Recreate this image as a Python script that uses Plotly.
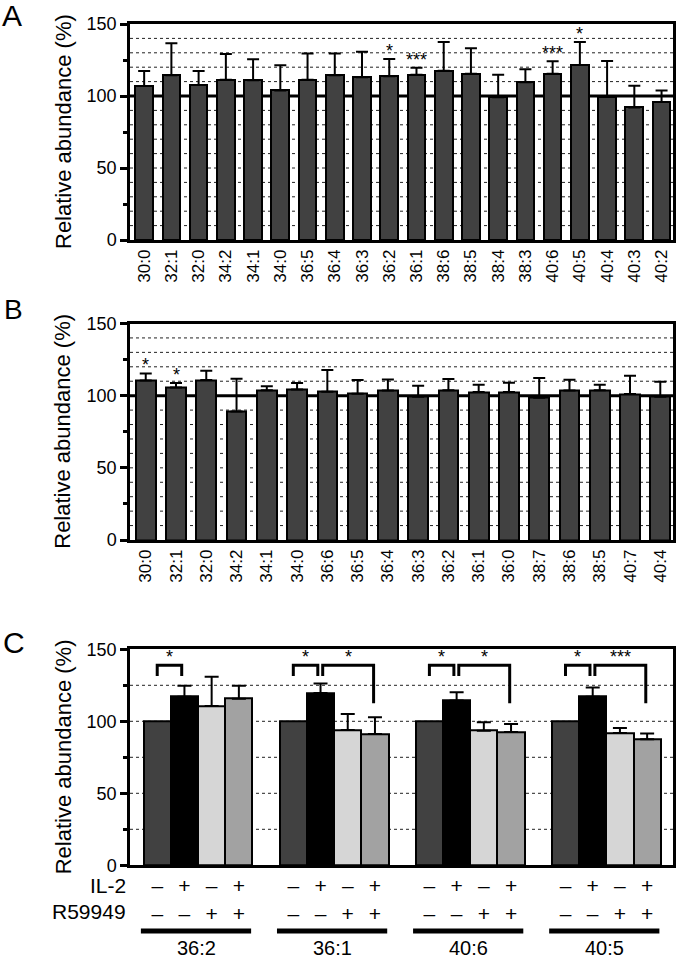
import plotly.graph_objects as go

# ---------------- data ----------------
cats_A = ["30:0", "32:1", "32:0", "34:2", "34:1", "34:0", "36:5", "36:4", "36:3", "36:2",
          "36:1", "38:6", "38:5", "38:4", "38:3", "40:6", "40:5", "40:4", "40:3", "40:2"]
vals_A = [107.0, 114.4, 107.6, 111.3, 110.9, 103.9, 111.3, 114.4, 113.0, 113.7,
          114.8, 117.6, 115.5, 99.1, 109.5, 115.5, 121.5, 99.5, 92.1, 95.8]
errs_A = [10.4, 22.2, 9.8, 17.9, 14.6, 17.4, 18.3, 15.2, 17.8, 12.0,
          4.9, 19.9, 17.6, 15.7, 9.0, 8.6, 16.0, 24.8, 15.1, 8.1]
sig_A = ["", "", "", "", "", "", "", "", "", "*",
         "***", "", "", "", "", "***", "*", "", "", ""]

cats_B = ["30:0", "32:1", "32:0", "34:2", "34:1", "34:0", "36:6", "36:5", "36:4", "36:3",
          "36:2", "36:1", "36:0", "38:7", "38:6", "38:5", "40:7", "40:4"]
vals_B = [110.5, 105.7, 110.8, 89.1, 103.8, 104.3, 102.7, 101.3, 103.6, 99.3,
          103.8, 102.5, 102.5, 98.5, 103.6, 103.8, 101.1, 99.3]
errs_B = [4.9, 3.0, 6.4, 22.6, 2.8, 4.4, 15.0, 9.5, 7.6, 7.5,
          7.7, 5.0, 6.4, 13.7, 7.4, 3.7, 12.7, 10.3]
sig_B = ["*", "*", "", "", "", "", "", "", "", "",
         "", "", "", "", "", "", "", ""]

groups_C = ["36:2", "36:1", "40:6", "40:5"]
ctrl_C = [100, 100, 100, 100]
il2_C = [117.1, 119.7, 114.4, 117.1]
il2_err_C = [7.6, 6.5, 5.8, 6.3]
r59_C = [110.6, 94.0, 93.5, 91.9]
r59_err_C = [20.4, 11.0, 5.8, 3.5]
both_C = [115.7, 91.2, 92.6, 87.5]
both_err_C = [9.0, 11.6, 5.5, 4.0]
il2_row = ["–", "+", "–", "+"]
r59_row = ["–", "–", "+", "+"]
# significance comparisons in panel C: (group, bar a, bar b, label)
sig_C = [(0, 0, 1, "*"), (1, 0, 1, "*"), (1, 1, 3, "*"), (2, 0, 1, "*"),
         (2, 1, 3, "*"), (3, 0, 1, "*"), (3, 1, 3, "***")]

# ---------------- style ----------------
W, H = 676, 961
FONT = "Liberation Sans, Arial, Helvetica, sans-serif"
DARK = "#414141"
COLS_C = ["#414141", "#000000", "#d6d6d6", "#a2a2a2"]
XDOM = [130 / W, 673 / W]


def ydom(top_px, bot_px):
    return [1 - bot_px / H, 1 - top_px / H]


DOM_A = ydom(24, 240)
DOM_B = ydom(323.5, 540)
DOM_C = ydom(649.3, 865.3)

fig = go.Figure()

# panel A
fig.add_trace(go.Bar(
    x=cats_A, y=vals_A, xaxis="x", yaxis="y", width=0.65,
    marker=dict(color=DARK, line=dict(color="black", width=2)),
    error_y=dict(type="data", symmetric=False, array=errs_A, arrayminus=[0] * len(errs_A),
                 color="black", thickness=2, width=6),
    showlegend=False))
# panel B
fig.add_trace(go.Bar(
    x=cats_B, y=vals_B, xaxis="x2", yaxis="y2", width=0.65,
    marker=dict(color=DARK, line=dict(color="black", width=2)),
    error_y=dict(type="data", symmetric=False, array=errs_B, arrayminus=[0] * len(errs_B),
                 color="black", thickness=2, width=6),
    showlegend=False))

# panel C
series_C = [(ctrl_C, [0] * 4), (il2_C, il2_err_C), (r59_C, r59_err_C), (both_C, both_err_C)]
GAP = 5
for k, (vals, errs) in enumerate(series_C):
    xs = [g * GAP + k for g in range(len(groups_C))]
    fig.add_trace(go.Bar(
        x=xs, y=vals, xaxis="x3", yaxis="y3", width=1.0,
        marker=dict(color=COLS_C[k], line=dict(color="black", width=2)),
        error_y=dict(type="data", symmetric=False, array=errs, arrayminus=[0] * 4,
                     color="black", thickness=2, width=7, visible=(k > 0)),
        showlegend=False))

tick_pos_C, tick_txt_C = [], []
for g in range(len(groups_C)):
    for k in range(4):
        tick_pos_C.append(g * GAP + k)
        tick_txt_C.append(f"{il2_row[k]}<br>{r59_row[k]}")

axis_line = dict(showline=True, linecolor="black", linewidth=2.5, mirror=True,
                 zeroline=False, showgrid=False, automargin=False)
yax_common = dict(range=[0, 150], tickvals=[0, 50, 100, 150], ticks="outside", ticklen=7,
                  tickwidth=2.5, tickcolor="black",
                  minor=dict(tickvals=[25, 75, 125], ticks="outside", ticklen=4,
                             tickwidth=2.5, tickcolor="black", showgrid=False),
                  tickfont=dict(size=18, color="black", family=FONT), **axis_line)

fig.update_layout(
    template="none",
    width=W, height=H, margin=dict(l=0, r=0, t=0, b=0, pad=0), autosize=False,
    paper_bgcolor="white", plot_bgcolor="white",
    font=dict(family=FONT, color="black"),
    bargap=0,
    xaxis=dict(domain=XDOM, anchor="y", range=[-0.52, len(cats_A) - 0.58], tickangle=-90,
               ticks="", tickfont=dict(size=17, family=FONT, color="black"), **axis_line),
    yaxis=dict(domain=DOM_A, anchor="x", **yax_common),
    xaxis2=dict(domain=XDOM, anchor="y2", range=[-0.52, len(cats_B) - 0.58], tickangle=-90,
                ticks="", tickfont=dict(size=17, family=FONT, color="black"), **axis_line),
    yaxis2=dict(domain=DOM_B, anchor="x2", **yax_common),
    xaxis3=dict(domain=XDOM, anchor="y3", range=[-1.0, 18.95], tickvals=tick_pos_C,
                ticktext=tick_txt_C, ticks="", tickangle=0,
                tickfont=dict(size=21, family=FONT, color="black"), **axis_line),
    yaxis3=dict(domain=DOM_C, anchor="x3", **yax_common),
)

shapes = []
annots = []
# grid lines
for xr, yr, step, solid100 in [("x", "y", 10, True), ("x2", "y2", 10, True), ("x3", "y3", 25, False)]:
    for v in range(step, 150, step):
        if v == 100 and solid100:
            shapes.append(dict(type="line", xref=f"{xr} domain", yref=yr, x0=0, x1=1, y0=v, y1=v,
                               line=dict(color="black", width=3), layer="below"))
        else:
            shapes.append(dict(type="line", xref=f"{xr} domain", yref=yr, x0=0, x1=1, y0=v, y1=v,
                               line=dict(color="#222222", width=1, dash="dot"), layer="below"))

# significance stars A, B
for cats, vals, errs, sig, xr, yr in [(cats_A, vals_A, errs_A, sig_A, "x", "y"),
                                      (cats_B, vals_B, errs_B, sig_B, "x2", "y2")]:
    for c, v, e, s in zip(cats, vals, errs, sig):
        if s:
            annots.append(dict(x=c, y=v + e, xref=xr, yref=yr, text=s, showarrow=False,
                               xanchor="center", yanchor="bottom", yshift=-4,
                               font=dict(size=18, color="black")))

# brackets in C
BR_TOP, BR_LEG, BR_LONG = 139.0, 131.5, 112.5
for g, a, b, s in sig_C:
    xa = g * GAP + a + (0.08 if a > 0 else 0.0)
    xb = g * GAP + b - (0.1 if b == 1 else 0.05)
    yb = BR_LEG if b == 1 else BR_LONG
    shapes.append(dict(type="path", xref="x3", yref="y3",
                       path=f"M {xa} {BR_LEG} L {xa} {BR_TOP} L {xb} {BR_TOP} L {xb} {yb}",
                       line=dict(color="black", width=3)))
    annots.append(dict(x=(xa + xb) / 2, y=BR_TOP, xref="x3", yref="y3", text=s, showarrow=False,
                       xanchor="center", yanchor="bottom", yshift=-4,
                       font=dict(size=18, color="black")))

# group lines and labels under C
for g, name in enumerate(groups_C):
    shapes.append(dict(type="line", xref="x3", yref="paper", x0=g * GAP - 0.6, x1=g * GAP + 3.45,
                       y0=1 - 931 / H, y1=1 - 931 / H, line=dict(color="black", width=5)))
    annots.append(dict(x=g * GAP + 1.45, y=0, xref="x3", yref="paper", text=name,
                       xanchor="center", yanchor="bottom", showarrow=False,
                       font=dict(size=20, color="black")))

for txt, ypx in [("IL-2", 885), ("R59949", 911)]:
    annots.append(dict(x=128 / W, y=1 - ypx / H, xref="paper", yref="paper", text=txt,
                       xanchor="right", yanchor="middle", showarrow=False,
                       font=dict(size=21, color="black")))

# y titles
for top, bot in [(24, 240), (323.5, 540), (649.3, 865.3)]:
    annots.append(dict(x=63 / W, y=1 - (top + bot) / 2 / H, xref="paper", yref="paper",
                       text="Relative abundance (%)", textangle=-90, showarrow=False,
                       xanchor="center", yanchor="middle",
                       font=dict(size=22, color="black")))

# panel letters
for letter, xp, yp, sz in [("A", 12, 16, 30), ("B", 13, 309, 28), ("C", 14, 642, 30)]:
    annots.append(dict(x=xp / W, y=1 - yp / H, xref="paper", yref="paper", text=letter,
                       xanchor="center", yanchor="middle", showarrow=False,
                       font=dict(size=sz, color="black")))

fig.update_layout(shapes=shapes, annotations=annots)
fig.write_html("out.html", config={"displayModeBar": False},
               post_script="document.body.style.margin='0';document.body.style.overflow='hidden';")
